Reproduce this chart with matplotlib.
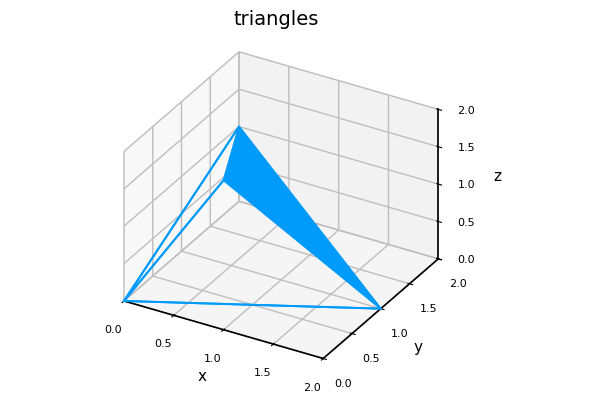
import matplotlib
matplotlib.use("Agg")
import matplotlib.pyplot as plt
from mpl_toolkits.mplot3d.art3d import Poly3DCollection

x = [0, 1, 2, 0]
y = [0, 0, 1, 2]
z = [0, 2, 0, 1]
faces = [(0, 1, 2), (0, 1, 3), (0, 2, 3), (1, 2, 3)]
ticks = [0.0, 0.5, 1.0, 1.5, 2.0]
color = "#009AFA"

fig = plt.figure(figsize=(6, 4), dpi=100)
ax = fig.add_subplot(projection="3d", proj_type="ortho")
ax.set_position([0.011, 0.028, 0.899, 0.894])
ax.set_title("triangles", fontsize=14, y=1.081)

# outlines first, only the last face is filled
for a, b, c in faces[:3]:
    ax.plot([x[a], x[b], x[c], x[a]], [y[a], y[b], y[c], y[a]], [z[a], z[b], z[c], z[a]], color=color, lw=1.4)
verts = [[(x[i], y[i], z[i]) for i in faces[3]]]
ax.add_collection3d(Poly3DCollection(verts, facecolor=color, edgecolor=color, lw=0.5))

ax.set_xlim(0, 2)
ax.set_ylim(0, 2)
ax.set_zlim(0, 2)
ax.set_xticks(ticks)
ax.set_yticks(ticks)
ax.set_zticks(ticks)
ax.tick_params(labelsize=8, pad=5)
ax.tick_params(axis="z", pad=4)
ax.set_xlabel("x", fontsize=11)
ax.set_ylabel("y", fontsize=11)
ax.set_zlabel("z", fontsize=11)
for axis in (ax.xaxis, ax.yaxis, ax.zaxis):
    axis._axinfo["axisline"]["color"] = (0, 0, 0, 1)
    axis._axinfo["axisline"]["linewidth"] = 1.2
    axis.line.set_color("black")
    axis.line.set_linewidth(1.2)
    axis._axinfo["grid"]["linewidth"] = 1.0
    axis._axinfo["grid"]["color"] = "#bebebe"

fig.savefig("out.png", dpi=100)
